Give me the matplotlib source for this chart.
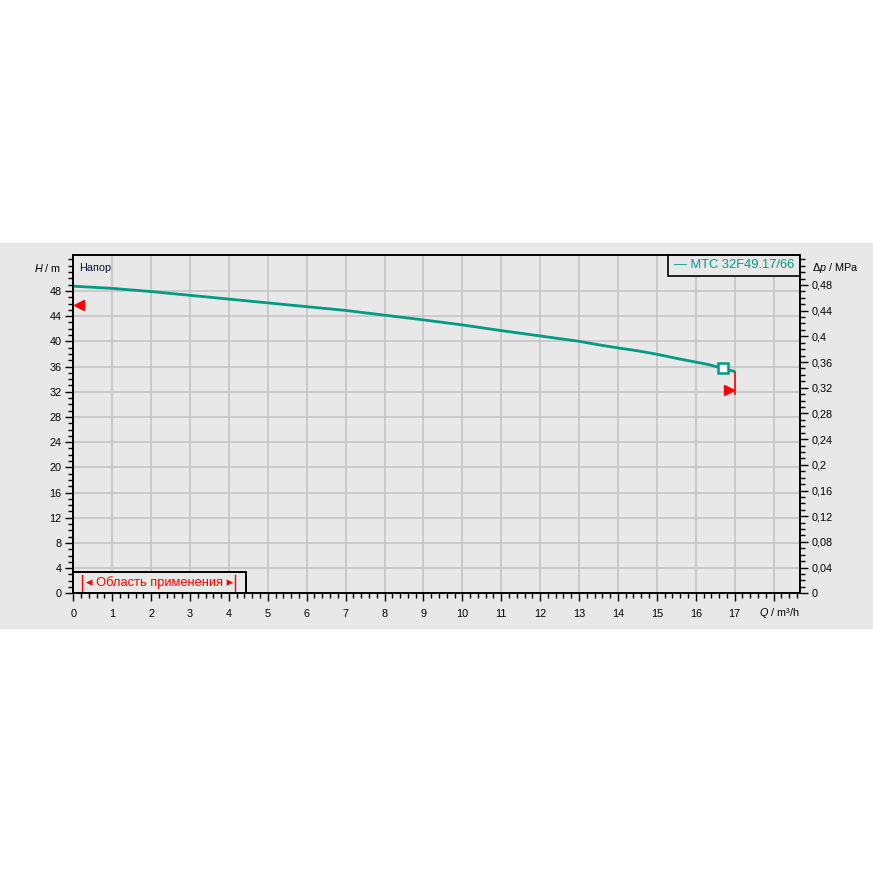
import matplotlib
matplotlib.use("Agg")
import matplotlib.pyplot as plt
from matplotlib.patches import Rectangle
import numpy as np

plt.rcParams['font.family'] = ['Liberation Sans', 'DejaVu Sans']
plt.rcParams['mathtext.fontset'] = 'custom'
plt.rcParams['mathtext.it'] = 'Liberation Sans:italic'
plt.rcParams['mathtext.rm'] = 'Liberation Sans'

# ---- data ----
q_values = [0, 1, 2, 3, 4, 5, 6, 7, 8, 9, 10, 11, 12, 13, 13.5, 14, 14.5,
            15, 15.5, 16, 16.3, 16.7, 17]
h_values = [48.75, 48.4, 47.9, 47.3, 46.7, 46.1, 45.5, 44.9, 44.15, 43.4,
            42.6, 41.7, 40.85, 40.0, 39.45, 38.95, 38.5, 37.95, 37.3, 36.7,
            36.35, 35.7, 35.2]
duty_q = 16.7
duty_h = 35.7
min_head_q = 0.15
min_head_h = 45.7
end_q = 17
end_h_low = 31.6
end_marker_h = 32.2
x_ticks = list(range(0, 19))
x_tick_labels = [str(i) for i in range(0, 18)] + [""]
y_ticks = list(range(0, 49, 4))
p_ticks = [0, 0.04, 0.08, 0.12, 0.16, 0.2, 0.24, 0.28, 0.32, 0.36, 0.4, 0.44, 0.48]
p_tick_labels = ["0", "0,04", "0,08", "0,12", "0,16", "0,2", "0,24", "0,28",
                 "0,32", "0,36", "0,4", "0,44", "0,48"]
series_name = "MTC 32F49.17/66"
range_label = "Область применения"
head_label = "Напор"

XMAX = 18.68
YMAX = 53.7
M_TO_MPA = 0.00980665

CURVE = '#009b84'
BG = '#e8e8e8'
GRID = '#c2c2c2'

fig = plt.figure(figsize=(8.73, 8.73), dpi=100)
fig.patch.set_facecolor('white')
# grey band
band = Rectangle((0, (873 - 629) / 873), 1, (629 - 243) / 873,
                 transform=fig.transFigure, facecolor=BG,
                 edgecolor='none', zorder=-10)
fig.patches.append(band)

left = 73.3 / 873
right = 800 / 873
bottom = (873 - 593.3) / 873
top = (873 - 255) / 873
ax = fig.add_axes([left, bottom, right - left, top - bottom])
ax.set_facecolor(BG)
ax.set_xlim(0, XMAX)
ax.set_ylim(0, YMAX)

ax.set_xticks(x_ticks)
ax.set_xticklabels(x_tick_labels)
ax.set_xticks(np.arange(0, XMAX, 0.2), minor=True)
ax.set_yticks(y_ticks)
ax.set_yticks(np.arange(0, 54, 1), minor=True)
ax.grid(True, which='major', color=GRID, linewidth=1.1, zorder=0)
ax.set_axisbelow(True)
ax.tick_params(axis='both', which='major', direction='out', length=6,
               width=1.0, labelsize=7.8, colors='black')
ax.tick_params(axis='both', which='minor', direction='out', length=3.5, width=1.0)
ax.tick_params(axis='x', which='major', pad=5)
ax.tick_params(axis='y', which='major', pad=2.5)
for s in ax.spines.values():
    s.set_color('black')
    s.set_linewidth(1.2)

ax2 = ax.twinx()
ax2.set_ylim(0, YMAX * M_TO_MPA)
ax2.set_yticks(p_ticks)
ax2.set_yticklabels(p_tick_labels)
ax2.set_yticks(np.arange(0, 0.525, 0.01), minor=True)
ax2.tick_params(axis='y', which='major', direction='out', length=6, width=1.0,
                labelsize=7.8, pad=2.5)
ax2.tick_params(axis='y', which='minor', direction='out', length=3.5, width=1.0)
for s in ax2.spines.values():
    s.set_color('black')
    s.set_linewidth(1.2)

# curve
ax.plot(q_values, h_values, color=CURVE, linewidth=2.0, zorder=3,
        solid_capstyle='butt', solid_joinstyle='round')
ax.plot([duty_q], [duty_h], marker='s', markersize=6.5, markerfacecolor='white',
        markeredgecolor=CURVE, markeredgewidth=1.8, zorder=4)

# red markers
ax.plot([min_head_q], [min_head_h], marker='<', markersize=7, color='red',
        linestyle='none', zorder=4, clip_on=False)
ax.plot([end_q, end_q], [h_values[-1], end_h_low], color='red', linewidth=1.2, zorder=4)
ax.plot([end_q - 0.15], [end_marker_h], marker='>', markersize=7, color='red',
        linestyle='none', zorder=4)

# axis labels
ax.text(-0.3, 51.65, r'$H$ / m', ha='right', va='center', fontsize=7.8)
ax.text(XMAX + 0.3, 51.65, r'$\Delta p$ / MPa', ha='left', va='center', fontsize=7.8)
ax.text(XMAX, -3.05, r'$Q$ / m³/h', ha='right', va='center', fontsize=7.8)

ax.text(0.15, 51.65, head_label, ha='left', va='center', fontsize=7.8,
        color='#101040')

# legend box
lx0 = (668 - 73.3) / 726.7
lw = (800 - 668) / 726.7
lh = (276 - 255) / 338.3
ax.add_patch(Rectangle((lx0, 1 - lh), lw, lh, transform=ax.transAxes,
                       facecolor=BG, edgecolor='black', linewidth=1.2, zorder=5))
ax.text(lx0 + lw / 2, 1 - lh / 2, "— " + series_name, transform=ax.transAxes,
        ha='center', va='center', fontsize=9.3, color=CURVE, zorder=6)

# application range box
bw = (246 - 73.3) / 726.7
bh = (593.3 - 572) / 338.3
ax.add_patch(Rectangle((0, 0), bw, bh, transform=ax.transAxes,
                       facecolor=BG, edgecolor='black', linewidth=1.4, zorder=5,
                       clip_on=False))
ax.text(bw / 2, bh / 2, "◂ " + range_label + " ▸", transform=ax.transAxes,
        ha='center', va='center', fontsize=9.3, color='red', zorder=6)
bx1 = (82.3 - 73.3) / 726.7
bx2 = (235.3 - 73.3) / 726.7
for bx in (bx1, bx2):
    ax.plot([bx, bx], [bh * 0.12, bh * 0.88], transform=ax.transAxes,
            color='red', linewidth=1.0, zorder=6)

fig.savefig('out.png', dpi=100, facecolor='white')
